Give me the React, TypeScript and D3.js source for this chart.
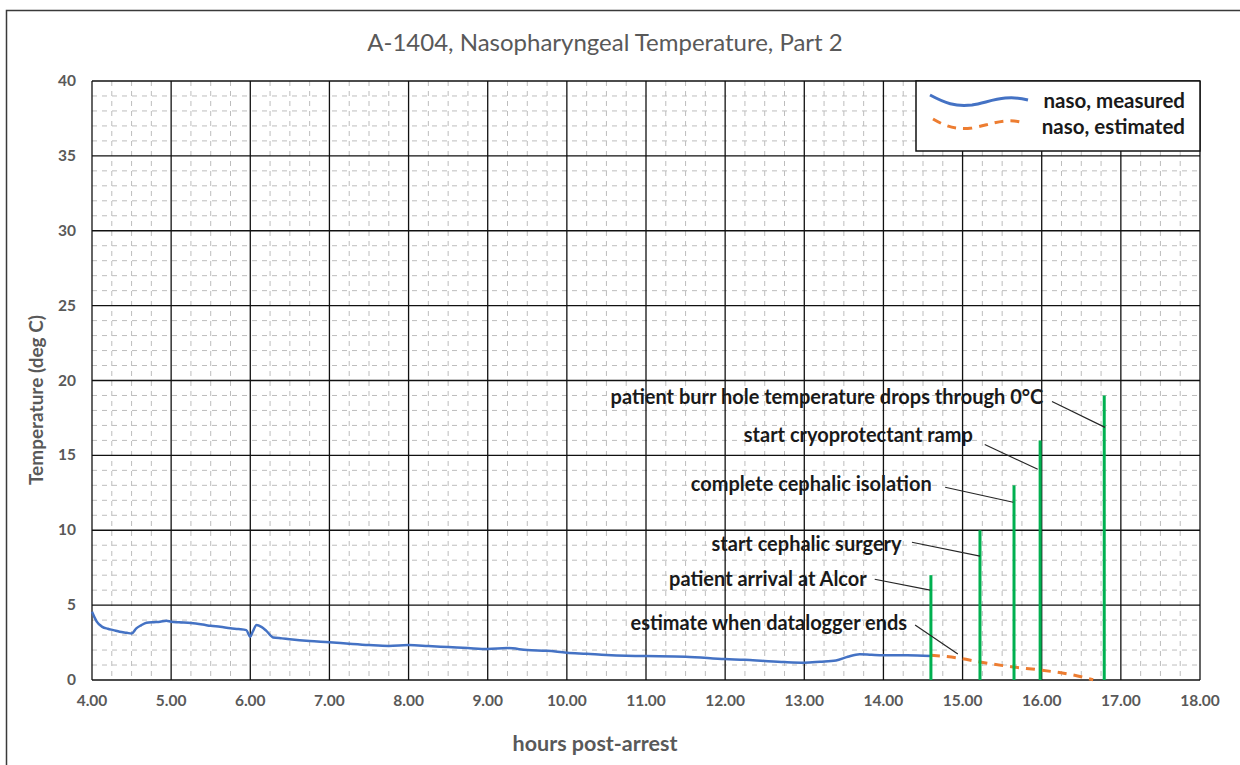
import React, { useEffect, useRef } from "react";
import * as d3 from "d3";

// measured nasopharyngeal temperature (hours post-arrest, deg C)
const measuredHours = [4.0, 4.03, 4.06, 4.13, 4.2, 4.27, 4.35, 4.44, 4.5, 4.56, 4.62, 4.69, 4.78, 4.86, 4.94, 5.0, 5.1, 5.25, 5.4, 5.5, 5.62, 5.75, 5.85, 5.95, 6.0, 6.03, 6.08, 6.14, 6.2, 6.29, 6.4, 6.5, 6.75, 7.0, 7.25, 7.5, 7.75, 8.0, 8.25, 8.5, 8.75, 9.0, 9.25, 9.5, 9.75, 10.0, 10.25, 10.5, 10.75, 11.0, 11.5, 12.0, 12.25, 12.5, 12.75, 13.0, 13.2, 13.4, 13.55, 13.7, 13.85, 14.0, 14.3, 14.6];
const measuredTemps = [4.55, 4.2, 3.9, 3.55, 3.42, 3.33, 3.22, 3.15, 3.1, 3.45, 3.65, 3.82, 3.86, 3.89, 3.96, 3.89, 3.85, 3.8, 3.7, 3.62, 3.55, 3.45, 3.4, 3.33, 2.89, 3.22, 3.67, 3.55, 3.3, 2.84, 2.78, 2.72, 2.6, 2.52, 2.42, 2.33, 2.27, 2.33, 2.27, 2.2, 2.13, 2.07, 2.13, 2.0, 1.95, 1.82, 1.75, 1.67, 1.62, 1.6, 1.56, 1.4, 1.35, 1.27, 1.2, 1.16, 1.22, 1.3, 1.55, 1.72, 1.68, 1.65, 1.66, 1.6];

// estimated after the datalogger ends
const estimatedHours = [14.6, 14.94, 15.22, 15.64, 15.98, 16.4, 16.65];
const estimatedTemps = [1.66, 1.47, 1.2, 0.87, 0.67, 0.33, 0.02];

// procedure events: time, height of marker
const eventHours = [14.6, 15.22, 15.65, 15.98, 16.79];
const eventHeights = [7, 10, 13, 16, 19];

// annotation text, text anchor (right end) and leader line (from -> to), in data units
const noteTexts = [
  "estimate when datalogger ends",
  "patient arrival at Alcor",
  "start cephalic surgery",
  "complete cephalic isolation",
  "start cryoprotectant ramp",
  "patient burr hole temperature drops through 0°C",
];
const noteTextHour = [14.3, 13.79, 14.23, 14.61, 15.13, 16.02];
const noteTextTemp = [3.8, 6.73, 9.07, 13.07, 16.33, 18.87];
const noteFromHour = [14.4, 13.89, 14.36, 14.78, 15.28, 16.13];
const noteFromTemp = [3.67, 6.73, 9.2, 12.87, 15.73, 18.6];
const noteToHour = [14.94, 14.59, 15.22, 15.64, 15.95, 16.8];
const noteToTemp = [1.73, 6.0, 8.27, 11.87, 14.07, 16.87];

const xTicks = d3.range(4, 18.001, 1);
const yTicks = d3.range(0, 40.001, 5);

const FONT = "Lato, 'Open Sans', sans-serif";
const GRAY = "#595959";

export default function App() {
  const ref = useRef<SVGSVGElement>(null);

  useEffect(() => {
    const svg = d3.select(ref.current);
    svg.selectAll("*").remove();

    const width = 1240, height = 765;
    const margin = { top: 81, right: 40, bottom: 85, left: 92 };

    const x = d3.scaleLinear().domain([4, 18]).range([margin.left, width - margin.right]);
    const y = d3.scaleLinear().domain([0, 40]).range([height - margin.bottom, margin.top]);

    svg.append("rect").attr("width", width).attr("height", height).attr("fill", "#fff");
    svg.append("rect")
      .attr("x", 6.5).attr("y", 10.5).attr("width", width).attr("height", height)
      .attr("fill", "none").attr("stroke", "#3a3a3a").attr("stroke-width", 1.5);

    // title
    svg.append("text")
      .attr("x", 605).attr("y", 51)
      .attr("text-anchor", "middle")
      .style("font-family", FONT).style("font-size", "24px")
      .attr("fill", GRAY)
      .text("A-1404, Nasopharyngeal Temperature, Part 2");

    // minor grid
    const grid = svg.append("g");
    const minorX = d3.range(4, 18.001, 0.25).filter(v => Math.abs(v - Math.round(v)) > 0.01);
    const minorY = d3.range(0, 40.001, 1).filter(v => v % 5 !== 0);
    grid.selectAll(".mx").data(minorX).enter().append("line")
      .attr("x1", d => x(d)).attr("x2", d => x(d))
      .attr("y1", y(40)).attr("y2", y(0))
      .attr("stroke", "#bdbdbd").attr("stroke-width", 1).attr("stroke-dasharray", "5,5");
    grid.selectAll(".my").data(minorY).enter().append("line")
      .attr("x1", x(4)).attr("x2", x(18))
      .attr("y1", d => y(d)).attr("y2", d => y(d))
      .attr("stroke", "#bdbdbd").attr("stroke-width", 1).attr("stroke-dasharray", "5,5");

    // major grid
    grid.selectAll(".Mx").data(xTicks).enter().append("line")
      .attr("x1", d => x(d)).attr("x2", d => x(d))
      .attr("y1", y(40)).attr("y2", y(0))
      .attr("stroke", "#111").attr("stroke-width", 1.3);
    grid.selectAll(".My").data(yTicks).enter().append("line")
      .attr("x1", x(4)).attr("x2", x(18))
      .attr("y1", d => y(d)).attr("y2", d => y(d))
      .attr("stroke", "#111").attr("stroke-width", 1.3);

    // axes labels
    svg.append("g").selectAll("text").data(yTicks).enter().append("text")
      .attr("x", 76).attr("y", d => y(d) + 5)
      .attr("text-anchor", "end")
      .style("font-family", FONT).style("font-size", "15.5px").style("font-weight", "bold")
      .attr("fill", GRAY)
      .text(d => d3.format("d")(d));
    svg.append("g").selectAll("text").data(xTicks).enter().append("text")
      .attr("x", d => x(d)).attr("y", 706)
      .attr("text-anchor", "middle")
      .style("font-family", FONT).style("font-size", "15.5px").style("font-weight", "bold")
      .attr("fill", GRAY)
      .text(d => d3.format(".2f")(d));

    svg.append("text")
      .attr("transform", `translate(43,400) rotate(-90)`)
      .attr("text-anchor", "middle")
      .style("font-family", FONT).style("font-size", "19px").style("font-weight", "bold")
      .attr("fill", GRAY)
      .text("Temperature (deg C)");
    svg.append("text")
      .attr("x", 595).attr("y", 751)
      .attr("text-anchor", "middle")
      .style("font-family", FONT).style("font-size", "21.5px").style("font-weight", "bold")
      .attr("fill", GRAY)
      .text("hours post-arrest");

    // series
    const line = d3.line<[number, number]>().x(d => x(d[0])).y(d => y(d[1])).curve(d3.curveMonotoneX);
    svg.append("path")
      .datum(measuredHours.map((h, i) => [h, measuredTemps[i]] as [number, number]))
      .attr("d", line).attr("fill", "none")
      .attr("stroke", "#4472C4").attr("stroke-width", 2.5).attr("stroke-linejoin", "round");
    svg.append("path")
      .datum(estimatedHours.map((h, i) => [h, estimatedTemps[i]] as [number, number]))
      .attr("d", line).attr("fill", "none")
      .attr("stroke", "#ED7D31").attr("stroke-width", 3).attr("stroke-dasharray", "9,7");

    // event markers
    svg.append("g").selectAll("line").data(eventHours).enter().append("line")
      .attr("x1", d => x(d)).attr("x2", d => x(d))
      .attr("y1", y(0)).attr("y2", (d, i) => y(eventHeights[i]))
      .attr("stroke", "#00B050").attr("stroke-width", 3);

    // annotations
    const notes = svg.append("g");
    noteTexts.forEach((t, i) => {
      notes.append("line")
        .attr("x1", x(noteFromHour[i])).attr("y1", y(noteFromTemp[i]))
        .attr("x2", x(noteToHour[i])).attr("y2", y(noteToTemp[i]))
        .attr("stroke", "#262626").attr("stroke-width", 1.2);
      notes.append("text")
        .attr("x", x(noteTextHour[i])).attr("y", y(noteTextTemp[i]) + 7)
        .attr("text-anchor", "end")
        .style("font-family", FONT).style("font-size", "20px").style("font-weight", "bold")
        .attr("fill", "#1a1a1a")
        .text(t);
    });

    // legend
    const lg = svg.append("g");
    lg.append("rect")
      .attr("x", 916).attr("y", 81).attr("width", 284).attr("height", 70)
      .attr("fill", "#fff").attr("stroke", "#111").attr("stroke-width", 1.5);
    lg.append("path")
      .attr("d", "M930,95 C945,103 955,107 972,105 C990,102 1005,94 1028,100")
      .attr("fill", "none").attr("stroke", "#4472C4").attr("stroke-width", 3);
    lg.append("path")
      .attr("d", "M933,119 C945,126 955,130 972,128 C990,125 1005,117 1024,123")
      .attr("fill", "none").attr("stroke", "#ED7D31").attr("stroke-width", 3).attr("stroke-dasharray", "9,7");
    lg.append("text").attr("x", 1185).attr("y", 108).attr("text-anchor", "end")
      .style("font-family", FONT).style("font-size", "20.5px").style("font-weight", "bold")
      .attr("fill", "#1a1a1a").text("naso, measured");
    lg.append("text").attr("x", 1185).attr("y", 134).attr("text-anchor", "end")
      .style("font-family", FONT).style("font-size", "20.5px").style("font-weight", "bold")
      .attr("fill", "#1a1a1a").text("naso, estimated");
  }, []);

  return (
    <svg ref={ref} width={1240} height={765}
      style={{ position: "absolute", left: 0, top: 0, display: "block" }} />
  );
}
